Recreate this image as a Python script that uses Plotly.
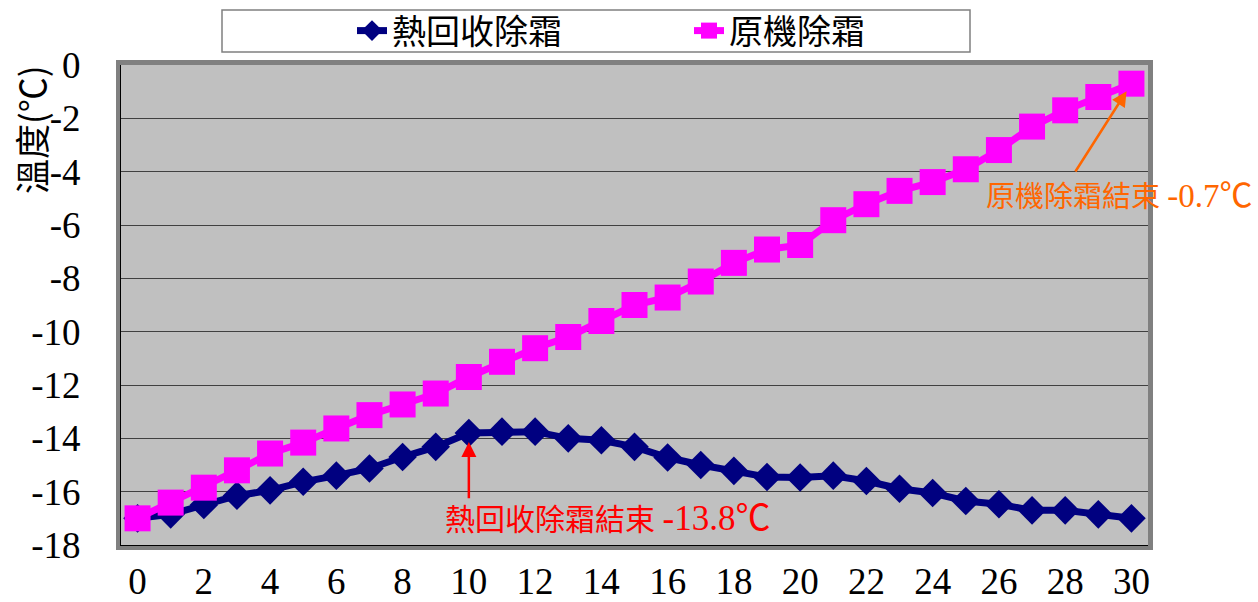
import plotly.graph_objects as go

# Time axis (minutes) and temperatures during defrost
minutes = list(range(31))
heat_recovery = [-17.0, -16.85, -16.5, -16.15, -15.95, -15.63, -15.4, -15.13, -14.7, -14.32,
                 -13.8, -13.75, -13.75, -14.0, -14.07, -14.32, -14.72, -15.0, -15.22, -15.45,
                 -15.47, -15.4, -15.6, -15.89, -16.05, -16.35, -16.47, -16.7, -16.7, -16.85, -17.0]
original = [-17.0, -16.41, -15.85, -15.2, -14.57, -14.16, -13.63, -13.13, -12.73, -12.32,
            -11.7, -11.13, -10.62, -10.2, -9.6, -9.0, -8.72, -8.12, -7.42, -6.92,
            -6.75, -5.82, -5.22, -4.72, -4.39, -3.91, -3.19, -2.31, -1.7, -1.2, -0.7]

series_names = ["熱回收除霜", "原機除霜"]
x_ticks = list(range(0, 31, 2))
y_ticks = list(range(0, -19, -2))
y_ticktext = [str(v) for v in y_ticks]  # plain hyphen minus

W, H = 1258, 602
ML, MR, MT, MB = 121, 110, 65, 57
PW, PH = W - ML - MR, H - MT - MB

def px_x(p):
    return (p - ML) / PW

def px_y(p):
    return (H - MB - p) / PH

SERIF = "Liberation Serif"
LATIN = "Liberation Serif, Noto Sans CJK TC"
CJK = "Noto Sans CJK TC"

fig = go.Figure()
fig.add_trace(go.Scatter(
    x=minutes, y=heat_recovery, name=series_names[0], mode="lines+markers",
    line=dict(color="#000080", width=7),
    marker=dict(symbol="diamond", size=22, color="#000080"),
    cliponaxis=False,
))
fig.add_trace(go.Scatter(
    x=minutes, y=original, name=series_names[1], mode="lines+markers",
    line=dict(color="#FF00FF", width=7),
    marker=dict(symbol="square", size=26, color="#FF00FF"),
    cliponaxis=False,
))

# Plot frame and legend box
pad = 2.5
fig.add_shape(type="rect", xref="paper", yref="paper",
              x0=-pad / PW, x1=1 + pad / PW, y0=-pad / PH, y1=1 + pad / PH,
              line=dict(color="#808080", width=5), layer="below")
fig.add_shape(type="rect", xref="paper", yref="paper",
              x0=px_x(222), x1=px_x(970), y0=px_y(52), y1=px_y(10),
              line=dict(color="#808080", width=1.5), fillcolor="white", layer="below")

annotations = [
    dict(text="溫度(℃)", xref="paper", yref="paper", x=px_x(30), y=px_y(130),
         textangle=-90, showarrow=False, xanchor="center", yanchor="middle",
         font=dict(family=CJK, size=35, color="black")),
    # arrow to the end of heat-recovery defrost
    dict(text="", x=minutes[10], y=heat_recovery[10], ax=10, ay=-16.3,
         xref="x", yref="y", axref="x", ayref="y", showarrow=True,
         arrowhead=2, arrowsize=1.2, arrowwidth=2.5, arrowcolor="#FF0000", standoff=9),
    dict(text=f"熱回收除霜結束 <span style='font-size:35px'>{heat_recovery[10]:.1f}℃</span>",
         x=9.23, y=-17.0,
         xref="x", yref="y", showarrow=False, xanchor="left", yanchor="middle",
         font=dict(family=LATIN, size=30, color="#FF0000")),
    # arrow to the end of original defrost
    dict(text="", x=minutes[30], y=original[30], ax=28.28, ay=-4.05,
         xref="x", yref="y", axref="x", ayref="y", showarrow=True,
         arrowhead=2, arrowsize=1.2, arrowwidth=2.5, arrowcolor="#FF6600", standoff=9),
    dict(text=f"原機除霜結束 <span style='font-size:33px'>{original[30]:.1f}℃</span>",
         xref="paper", yref="y", x=px_x(1255), y=-4.91,
         showarrow=False, xanchor="right", yanchor="middle",
         font=dict(family=LATIN, size=29, color="#FF6600")),
]

fig.update_layout(
    width=W, height=H,
    margin=dict(l=ML, r=MR, t=MT, b=MB, pad=0, autoexpand=False),
    paper_bgcolor="white", plot_bgcolor="#C0C0C0",
    font=dict(family=SERIF),
    showlegend=True,
    legend=dict(orientation="h", x=px_x(352), y=px_y(31), xanchor="left", yanchor="middle",
                bgcolor="rgba(0,0,0,0)", borderwidth=0,
                entrywidth=292, entrywidthmode="pixels",
                font=dict(family=CJK, size=34, color="black")),
    annotations=annotations,
    xaxis=dict(range=[-0.5, 30.5], tickvals=x_ticks, showgrid=False, zeroline=False,
               showline=True, linecolor="black", linewidth=1, ticks="",
               automargin=False, ticklabelstandoff=4,
               tickfont=dict(family=SERIF, size=37, color="black")),
    yaxis=dict(range=[-18, 0], tickvals=y_ticks, ticktext=y_ticktext,
               showgrid=True, gridcolor="#404040", gridwidth=1, zeroline=False,
               showline=True, linecolor="black", linewidth=1, ticks="",
               automargin=False, ticklabelstandoff=32,
               tickfont=dict(family=SERIF, size=37, color="black")),
)

fig.write_html("out.html")
